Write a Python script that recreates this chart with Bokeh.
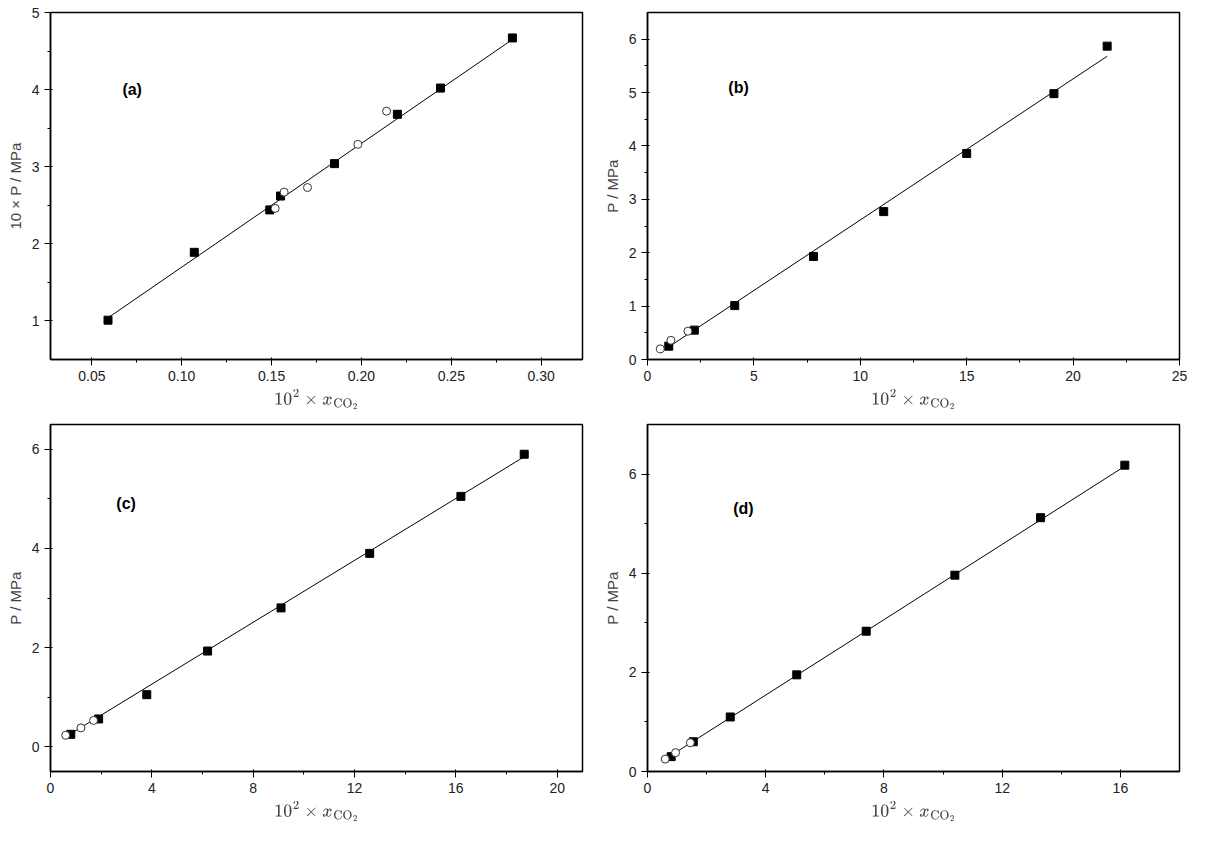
from bokeh.plotting import figure
from bokeh.layouts import gridplot
from bokeh.models import FixedTicker, NumeralTickFormatter
from bokeh.embed import file_html
from bokeh.resources import INLINE

# panel (a)
a_sq_x = [0.059, 0.107, 0.149, 0.155, 0.185, 0.220, 0.244, 0.284]
a_sq_y = [1.01, 1.89, 2.44, 2.62, 3.04, 3.68, 4.02, 4.67]
a_ci_x = [0.152, 0.157, 0.170, 0.198, 0.214]
a_ci_y = [2.46, 2.67, 2.73, 3.29, 3.72]
a_fit_x = [0.059, 0.284]
a_fit_y = [1.04, 4.65]

# panel (b)
b_sq_x = [1.0, 2.2, 4.1, 7.8, 11.1, 15.0, 19.1, 21.6]
b_sq_y = [0.25, 0.55, 1.01, 1.93, 2.77, 3.86, 4.98, 5.87]
b_ci_x = [0.6, 1.1, 1.9]
b_ci_y = [0.20, 0.36, 0.53]
b_fit_x = [0.6, 21.6]
b_fit_y = [0.13, 5.68]

# panel (c)
c_sq_x = [0.8, 1.9, 3.8, 6.2, 9.1, 12.6, 16.2, 18.7]
c_sq_y = [0.25, 0.56, 1.05, 1.93, 2.80, 3.90, 5.05, 5.90]
c_ci_x = [0.6, 1.2, 1.7]
c_ci_y = [0.23, 0.38, 0.53]
c_fit_x = [0.6, 18.7]
c_fit_y = [0.20, 5.85]

# panel (d)
d_sq_x = [0.8, 1.55, 2.8, 5.05, 7.4, 10.4, 13.3, 16.15]
d_sq_y = [0.30, 0.60, 1.10, 1.95, 2.83, 3.96, 5.12, 6.18]
d_ci_x = [0.6, 0.95, 1.45]
d_ci_y = [0.25, 0.38, 0.58]
d_fit_x = [0.6, 16.1]
d_fit_y = [0.25, 6.14]

xlabel = r"$$10^2 \times x_{\mathrm{CO_2}}$$"


def panel(name, sx, sy, cx, cy, fx, fy, xr, yr, xt, yt, ylab, lx, ly, xfmt=None):
    p = figure(width=597, height=412, x_range=xr, y_range=yr,
               output_backend="svg", toolbar_location=None,
               min_border_left=50, min_border_right=15, min_border_top=12)
    p.grid.visible = False
    p.outline_line_color = "black"
    p.outline_line_width = 1.5
    p.xaxis.ticker = FixedTicker(ticks=xt[0], minor_ticks=xt[1])
    p.yaxis.ticker = FixedTicker(ticks=yt[0], minor_ticks=yt[1])
    if xfmt:
        p.xaxis.formatter = NumeralTickFormatter(format=xfmt)
    for ax in (p.xaxis, p.yaxis):
        ax.axis_line_color = "black"
        ax.axis_line_width = 1.5
        ax.major_label_text_font = "Liberation Sans"
        ax.major_label_text_font_size = "14px"
        ax.major_label_text_color = "#222222"
        ax.axis_label_text_font = "Liberation Sans"
        ax.axis_label_text_font_style = "normal"
        ax.axis_label_text_font_size = "15px"
        ax.major_tick_out = 6
        ax.minor_tick_out = 3
        ax.minor_tick_in = 0
    p.xaxis.axis_label = xlabel
    p.yaxis.axis_label = ylab
    p.line(fx, fy, line_color="black", line_width=1)
    p.scatter(sx, sy, marker="square", size=8, fill_color="black", line_color="black")
    p.scatter(cx, cy, marker="circle", size=8, fill_color="white", line_color="#333333")
    p.text([lx], [ly], text=[name], text_font_style="bold", text_font_size="16px",
           text_baseline="middle")
    return p


pa = panel("(a)", a_sq_x, a_sq_y, a_ci_x, a_ci_y, a_fit_x, a_fit_y,
           (0.027, 0.323), (0.5, 5.0),
           ([0.05, 0.10, 0.15, 0.20, 0.25, 0.30], [0.075, 0.125, 0.175, 0.225, 0.275]),
           ([1, 2, 3, 4, 5], [1.5, 2.5, 3.5, 4.5]),
           "10 × P / MPa", 0.067, 4.0, xfmt="0.00")
pb = panel("(b)", b_sq_x, b_sq_y, b_ci_x, b_ci_y, b_fit_x, b_fit_y,
           (0, 25), (0, 6.5),
           ([0, 5, 10, 15, 20, 25], [2.5, 7.5, 12.5, 17.5, 22.5]),
           ([0, 1, 2, 3, 4, 5, 6], [0.5, 1.5, 2.5, 3.5, 4.5, 5.5]),
           "P / MPa", 3.8, 5.1)
pc = panel("(c)", c_sq_x, c_sq_y, c_ci_x, c_ci_y, c_fit_x, c_fit_y,
           (0, 21), (-0.5, 6.5),
           ([0, 4, 8, 12, 16, 20], [2, 6, 10, 14, 18]),
           ([0, 2, 4, 6], [1, 3, 5]),
           "P / MPa", 2.6, 4.9)
pd_ = panel("(d)", d_sq_x, d_sq_y, d_ci_x, d_ci_y, d_fit_x, d_fit_y,
            (0, 18), (0, 7),
            ([0, 4, 8, 12, 16], [2, 6, 10, 14]),
            ([0, 2, 4, 6], [1, 3, 5]),
            "P / MPa", 2.9, 5.3)

p = gridplot([[pa, pb], [pc, pd_]], toolbar_location=None)
open("out.html", "w").write(file_html(p, INLINE))
